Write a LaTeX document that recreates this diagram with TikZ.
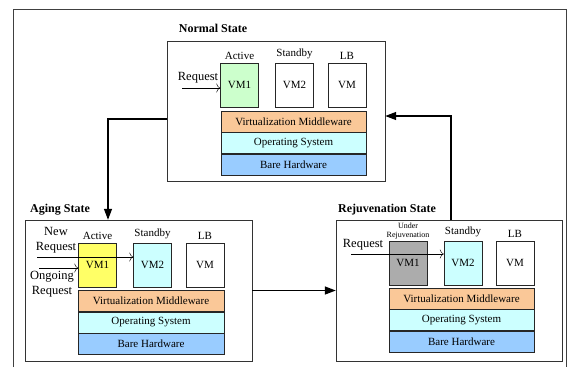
\documentclass[tikz,border=0pt]{standalone}
\usepackage{fontspec}
\setmainfont{Liberation Serif}
\usetikzlibrary{positioning,arrows.meta}
\definecolor{vmgreen}{RGB}{204,255,204}
\definecolor{vmyellow}{RGB}{255,255,102}
\definecolor{vmgray}{RGB}{172,172,172}
\definecolor{vmcyan}{RGB}{204,255,255}
\definecolor{mwpeach}{RGB}{250,200,152}
\definecolor{oscyan}{RGB}{204,255,255}
\definecolor{hwblue}{RGB}{153,204,255}
\tikzset{
  statebox/.style={draw=black!80, rectangle, inner sep=0pt},
  vmbox/.style={draw=black!85, minimum width=38pt, minimum height=44pt, inner sep=0pt},
  layerbox/.style={draw=black!85, minimum width=145pt, minimum height=21pt, inner sep=0pt},
  title/.style={font=\bfseries\fontsize{12}{14}\selectfont},
  reqlabel/.style={font=\fontsize{12.5}{14.5}\selectfont, align=center, inner sep=0pt},
  flow/.style={line width=1.3pt, -{Triangle[length=11pt,width=8pt]}},
  reqarrow/.style={-{To[length=4pt,width=9pt]}},
  small/.style={font=\fontsize{8}{9}\selectfont, align=center, inner sep=1pt}
}
\begin{document}
\begin{tikzpicture}[x=10pt,y=-10pt,font=\fontsize{11}{14}\selectfont]
  \useasboundingbox (0,0) rectangle (56.7,36.7);
  % Draw frame
  \draw[black!75] (1.3,36.7) |- (56.6,0.9) -- (56.6,36.7);

  % Draw normal state
  \node (normal) [statebox, minimum width=218pt, minimum height=140pt] at (27.6,11.1) {};
  \node (normaltitle) [title] at (21.3,2.8) {Normal State};
  \node (n1) [vmbox, fill=vmgreen] at (23.95,8.5) {VM1};
  \node (n2) [vmbox] at (29.45,8.5) {VM2};
  \node (n3) [vmbox] at (34.7,8.5) {VM};
  \node (nmw) [layerbox, fill=mwpeach] at (29.35,12.15) {Virtualization Middleware};
  \node (nos) [layerbox, fill=oscyan, below=0pt of nmw] {Operating System};
  \node (nhw) [layerbox, fill=hwblue, below=0pt of nos] {Bare Hardware};
  \node (n1lbl) [above=0pt of n1] {Active};
  \node (n2lbl) [above=0pt of n2] {Standby};
  \node (n3lbl) [above=0pt of n3] {LB};
  \node (nreqlbl) [reqlabel] at (19.8,7.8) {Request};
  \coordinate (nreq) at (18.2,8.8);
  \draw[reqarrow] (nreq) -- (nreq -| n1.west);

  % Draw aging state
  \node (aging) [statebox, minimum width=227pt, minimum height=141pt] at (13.85,29.05) {};
  \node (agingtitle) [title] at (6.0,21.0) {Aging State};
  \node (a1) [vmbox, fill=vmyellow] at (9.75,26.5) {VM1};
  \node (a2) [vmbox, fill=vmcyan] at (15.25,26.5) {VM2};
  \node (a3) [vmbox] at (20.5,26.5) {VM};
  \node (amw) [layerbox, fill=mwpeach, minimum width=146pt] at (15.1,30.1) {Virtualization Middleware};
  \node (aos) [layerbox, fill=oscyan, minimum width=146pt, below=0pt of amw] {Operating System};
  \node (ahw) [layerbox, fill=hwblue, minimum width=146pt, below=0pt of aos] {Bare Hardware};
  \node (a1lbl) [above=0pt of a1] {Active};
  \node (a2lbl) [above=0pt of a2] {Standby};
  \node (a3lbl) [above=0pt of a3] {LB};
  \node (newlbl) [reqlabel] at (5.6,24.0) {New\\Request};
  \node (oldlbl) [reqlabel] at (5.2,28.4) {Ongoing\\Request};
  \coordinate (newreq) at (3.7,25.7);
  \coordinate (oldreq) at (3.9,26.8);
  \draw[reqarrow] (newreq) -- (newreq -| a2.west);
  \draw[reqarrow] (oldreq) -- (oldreq -| a1.west);

  % Draw rejuvenation state
  \node (rejuv) [statebox, minimum width=226pt, minimum height=141pt] at (44.9,29.05) {};
  \node (rejuvtitle) [title] at (38.7,21.0) {Rejuvenation State};
  \node (r1) [vmbox, fill=vmgray] at (40.8,26.3) {VM1};
  \node (r2) [vmbox, fill=vmcyan] at (46.3,26.3) {VM2};
  \node (r3) [vmbox] at (51.5,26.3) {VM};
  \node (rmw) [layerbox, fill=mwpeach] at (46.15,29.85) {Virtualization Middleware};
  \node (ros) [layerbox, fill=oscyan, below=0pt of rmw] {Operating System};
  \node (rhw) [layerbox, fill=hwblue, below=0pt of ros] {Bare Hardware};
  \node (r1lbl) [small, above=0pt of r1] {Under\\Rejuvenation};
  \node (r2lbl) [above=0pt of r2] {Standby};
  \node (r3lbl) [above=0pt of r3] {LB};
  \node (rreqlbl) [reqlabel] at (36.3,24.5) {Request};
  \coordinate (rreq) at (35.1,25.4);
  \draw[reqarrow] (rreq) -- (rreq -| r2.west);

  % Draw transitions
  \coordinate (c1) at (10.8,11.9);
  \coordinate (c3) at (45.1,11.6);
  \draw[flow] (normal.west |- c1) -| (aging.north -| c1);
  \draw[flow] (aging.east) -- (rejuv.west);
  \draw[flow] (rejuv.north -| c3) |- (normal.east |- c3);
\end{tikzpicture}
\end{document}
